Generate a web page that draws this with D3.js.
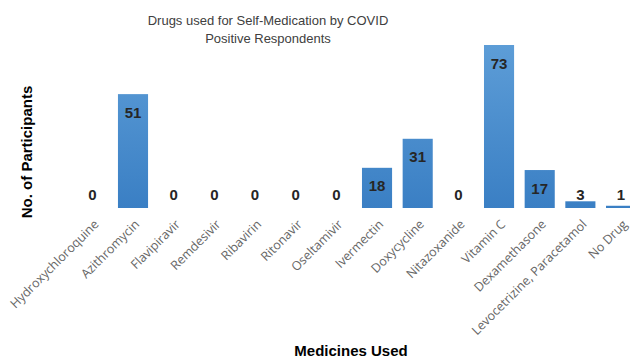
<!DOCTYPE html>
<html>
<head>
<meta charset="utf-8">
<script src="https://cdn.jsdelivr.net/npm/d3@7"></script>
<style>
  body { margin: 0; background: #fff; }
  svg { display: block; }
</style>
</head>
<body>
<div id="chart"></div>
<script>
// data
const medicines = ['Hydroxychloroquine', 'Azithromycin', 'Flavipiravir', 'Remdesivir', 'Ribavirin',
  'Ritonavir', 'Oseltamivir', 'Ivermectin', 'Doxycycline', 'Nitazoxanide', 'Vitamin C',
  'Dexamethasone', 'Levocetrizine, Paracetamol', 'No Drug']
const participants = [0, 51, 0, 0, 0, 0, 0, 18, 31, 0, 73, 17, 3, 1]
const titleLines = ['Drugs used for Self-Medication by COVID', 'Positive Respondents']

const width = 630
const height = 358
const baseY = 208

const svg = d3.select('#chart')
  .append('svg')
  .attr('width', width)
  .attr('height', height)

const defs = svg.append('defs')
const grad = defs.append('linearGradient')
  .attr('id', 'barFill')
  .attr('gradientUnits', 'userSpaceOnUse')
  .attr('x1', 0).attr('y1', 45).attr('x2', 0).attr('y2', baseY)
grad.append('stop').attr('offset', '0%').attr('stop-color', '#5d9dd7')
grad.append('stop').attr('offset', '100%').attr('stop-color', '#3a7fc4')

const x = d3.scaleBand()
  .domain(medicines)
  .range([72, 72 + 40.67 * medicines.length])
  .paddingInner(0.26)
  .paddingOuter(0.13)

const y = d3.scaleLinear()
  .domain([0, 73])
  .range([baseY, 45])

// title
svg.append('text')
  .attr('x', 268)
  .attr('y', 25)
  .attr('text-anchor', 'middle')
  .style('font-family', 'Liberation Sans, Arial, sans-serif')
  .style('font-size', '13px')
  .style('fill', '#404040')
  .selectAll('tspan')
  .data(titleLines)
  .enter()
  .append('tspan')
  .attr('x', 268)
  .attr('dy', (d, i) => i === 0 ? 0 : 18)
  .text(d => d)

// bars
svg.append('g')
  .selectAll('rect')
  .data(participants)
  .enter()
  .append('rect')
  .attr('x', (d, i) => x(medicines[i]))
  .attr('y', d => y(d))
  .attr('width', x.bandwidth())
  .attr('height', d => baseY - y(d))
  .style('fill', 'url(#barFill)')

// value labels, inside the bar top or just above the baseline for short bars
svg.append('g')
  .selectAll('text')
  .data(participants)
  .enter()
  .append('text')
  .attr('x', (d, i) => x(medicines[i]) + x.bandwidth() / 2)
  .attr('y', d => Math.min(y(d) + 18, 194) + 5.5)
  .attr('text-anchor', 'middle')
  .style('font-family', 'Liberation Sans, Arial, sans-serif')
  .style('font-size', '15px')
  .style('font-weight', 'bold')
  .style('fill', '#262626')
  .text(d => d)

// x axis tick labels
const xAxis = svg.append('g')
  .attr('transform', `translate(0,${baseY})`)
  .call(d3.axisBottom(x).tickSize(0).tickPadding(0))
xAxis.select('.domain').remove()
xAxis.selectAll('text')
  .attr('transform', 'translate(4,14) rotate(-45)')
  .attr('x', 0)
  .attr('y', 0)
  .attr('dy', '0.35em')
  .attr('text-anchor', 'end')
  .style('font-family', 'Open Sans, sans-serif')
  .style('font-size', '12.5px')
  .style('fill', '#666')

// axis titles
svg.append('text')
  .attr('transform', 'translate(32,152) rotate(-90)')
  .attr('text-anchor', 'middle')
  .style('font-family', 'Liberation Sans, Arial, sans-serif')
  .style('font-size', '15px')
  .style('font-weight', 'bold')
  .style('fill', '#000')
  .text('No. of Participants')

svg.append('text')
  .attr('x', 351)
  .attr('y', 356)
  .attr('text-anchor', 'middle')
  .style('font-family', 'Liberation Sans, Arial, sans-serif')
  .style('font-size', '15px')
  .style('font-weight', 'bold')
  .style('fill', '#000')
  .text('Medicines Used')
</script>
</body>
</html>
